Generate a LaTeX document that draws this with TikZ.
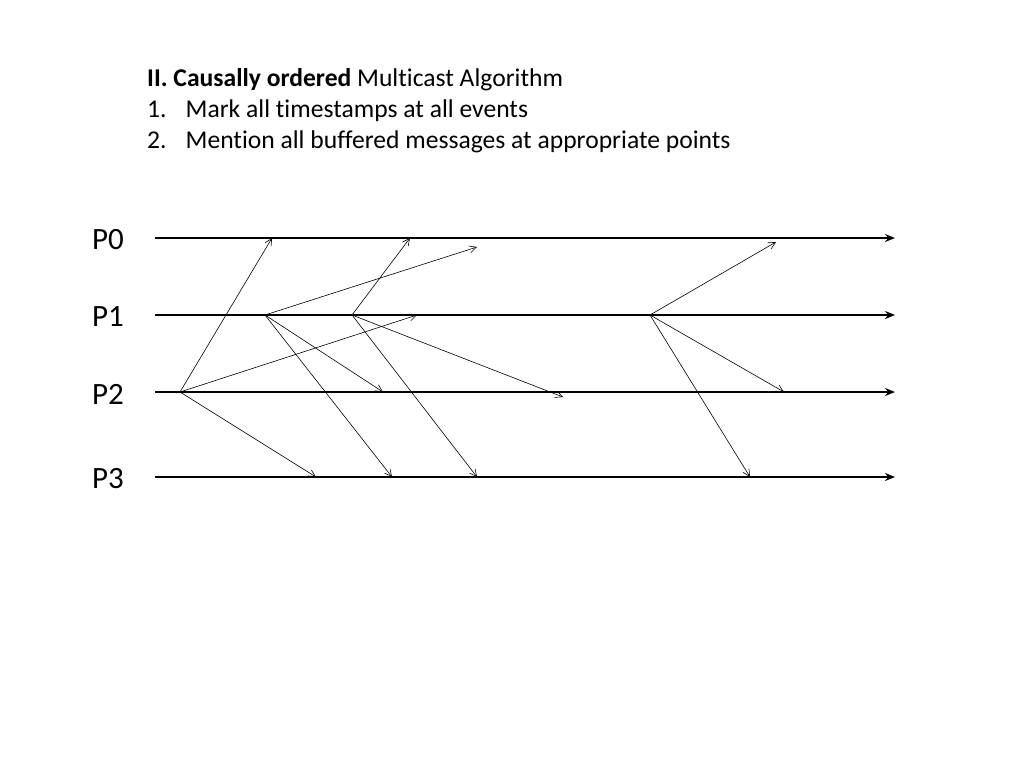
\documentclass[tikz,border=0pt]{standalone}
\usepackage{fontspec}
\setmainfont[Ligatures={NoCommon}]{Carlito}
\usetikzlibrary{arrows.meta}
\begin{document}
\begin{tikzpicture}[x=1pt,y=-1pt,
  proc/.style={line width=2.6pt,-{Stealth[length=10pt,width=8pt]}},
  msg/.style={line width=0.6pt,-{Straight Barb[length=7pt,width=7pt]}},
  lbl/.style={anchor=center,font=\fontsize{31}{36}\selectfont},
  txt/.style={anchor=west,font=\fontsize{25.6}{30}\selectfont,inner sep=0pt}]
\useasboundingbox (0,0) rectangle (1024,768);
\node[txt] (t1) at (147,80) {\textbf{II. Causally ordered} Multicast Algorithm};
\node[txt] (t2) at (147,111) {1.\hspace{19pt}Mark all timestamps at all events};
\node[txt] (t3) at (147,142) {2.\hspace{19pt}Mention all buffered messages at appropriate points};
\foreach \i/\y in {0/238,1/315,2/392,3/477}{
  \node[lbl] (L\i) at (108,\y+2) {P\i};
  \coordinate (s\i) at (155,\y);
  \coordinate (e\i) at (895,\y);
  \draw[proc] (s\i) -- (e\i);
}
\coordinate (a) at (180,392);
\coordinate (b) at (265,315);
\coordinate (c) at (352,315);
\coordinate (d) at (650,315);
\coordinate (a0) at (272,238);
\coordinate (a1) at (417,315);
\coordinate (a3) at (316,477);
\coordinate (b0) at (477,247);
\coordinate (b2) at (383,392);
\coordinate (b3) at (392,477);
\coordinate (c0) at (410,238);
\coordinate (c2) at (563,397);
\coordinate (c3) at (477,477);
\coordinate (d0) at (776,242);
\coordinate (d2) at (784,392);
\coordinate (d3) at (750,477);
\foreach \s/\t in {a/a0,a/a1,a/a3,b/b0,b/b2,b/b3,c/c0,c/c2,c/c3,d/d0,d/d2,d/d3}
  \draw[msg] (\s) -- (\t);
\end{tikzpicture}
\end{document}
